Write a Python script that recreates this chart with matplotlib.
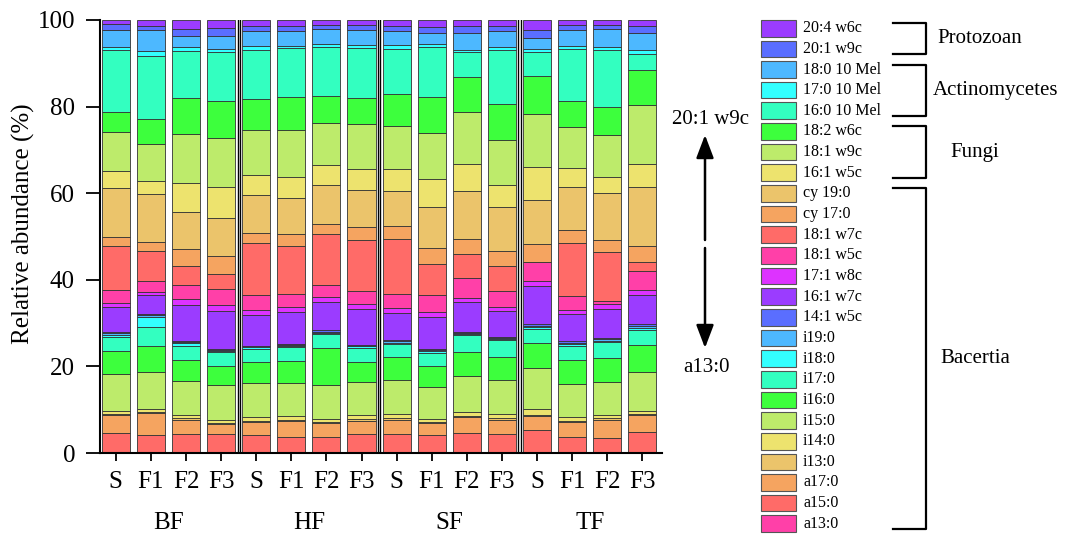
import numpy as np
import matplotlib
matplotlib.use("Agg")
import matplotlib.pyplot as plt
from matplotlib.patches import Rectangle
from matplotlib.lines import Line2D

plt.rcParams['font.family'] = ['Liberation Serif', 'DejaVu Serif']

W, H = 1067, 534

# PLFA names, bottom of the stack first
fatty_acids = ['a13:0', 'a15:0', 'a17:0', 'i13:0', 'i14:0', 'i15:0', 'i16:0', 'i17:0',
               'i18:0', 'i19:0', '14:1 w5c', '16:1 w7c', '17:1 w8c', '18:1 w5c', '18:1 w7c',
               'cy 17:0', 'cy 19:0', '16:1 w5c', '18:1 w9c', '18:2 w6c',
               '16:0 10 Mel', '17:0 10 Mel', '18:0 10 Mel', '20:1 w9c', '20:4 w6c']

treatments = ['S', 'F1', 'F2', 'F3']
sites = ['BF', 'HF', 'SF', 'TF']

# relative abundance (%) per sample, same order as fatty_acids
bf_s = [0.2, 4.4, 4.1, 0.3, 0.6, 8.7, 5.2, 3.4, 0.3, 0.4, 0.3, 5.8, 0.9, 3.1, 10.0, 2.3, 11.2, 4.0, 8.9, 4.6, 14.4, 0.7, 3.9, 1.4, 0.9]
bf_f1 = [0.2, 3.9, 5.1, 0.3, 0.7, 8.5, 6.0, 4.5, 2.3, 0.3, 0.2, 4.4, 0.8, 2.5, 6.9, 2.2, 11.0, 3.1, 8.5, 5.7, 14.7, 1.0, 4.9, 1.0, 1.3]
bf_f2 = [0.2, 4.1, 3.4, 0.3, 0.7, 7.9, 4.8, 3.2, 0.8, 0.2, 0.2, 8.3, 1.5, 3.3, 4.4, 3.9, 8.4, 6.7, 11.4, 8.3, 10.9, 0.8, 2.5, 1.7, 2.1]
bf_f3 = [0.2, 4.1, 2.3, 0.3, 0.8, 7.9, 4.6, 3.1, 0.3, 0.3, 0.2, 8.8, 1.2, 3.8, 3.5, 4.2, 8.7, 7.1, 11.3, 8.5, 11.3, 0.8, 3.1, 1.8, 1.8]
hf_s = [0.2, 3.9, 3.1, 0.3, 0.8, 7.9, 4.8, 3.1, 0.3, 0.2, 0.2, 7.0, 1.3, 3.4, 12.0, 2.3, 8.7, 4.8, 10.4, 7.1, 11.3, 0.9, 3.4, 1.1, 1.5]
hf_f1 = [0.2, 3.6, 3.6, 0.3, 0.8, 7.7, 5.0, 3.3, 0.3, 0.2, 0.2, 7.3, 1.3, 3.0, 11.1, 2.7, 8.3, 4.8, 11.0, 7.5, 11.3, 0.6, 3.3, 1.1, 1.5]
hf_f2 = [0.2, 3.6, 3.1, 0.3, 0.7, 7.7, 8.7, 3.1, 0.3, 0.3, 0.3, 6.5, 1.2, 2.9, 11.6, 2.4, 8.9, 4.6, 9.8, 6.3, 11.2, 0.8, 3.4, 1.0, 1.1]
hf_f3 = [0.2, 4.1, 3.2, 0.3, 0.9, 7.7, 4.6, 3.3, 0.3, 0.2, 0.2, 8.3, 1.0, 3.1, 11.8, 3.0, 8.6, 4.9, 10.2, 6.2, 11.5, 0.7, 3.4, 1.2, 1.1]
sf_s = [0.2, 4.1, 3.4, 0.3, 0.9, 8.0, 5.3, 3.0, 0.3, 0.3, 0.2, 6.3, 1.2, 3.3, 12.7, 3.0, 8.1, 5.0, 9.9, 7.3, 10.5, 0.9, 3.2, 1.1, 1.5]
sf_f1 = [0.2, 3.9, 2.8, 0.3, 0.7, 7.3, 4.8, 3.1, 0.4, 0.3, 0.3, 7.4, 1.0, 4.0, 7.2, 3.7, 9.4, 6.5, 10.6, 8.3, 11.6, 0.7, 2.4, 1.4, 1.7]
sf_f2 = [0.2, 4.4, 3.7, 0.3, 0.9, 8.2, 5.6, 3.9, 0.3, 0.2, 0.2, 6.9, 1.0, 4.6, 5.6, 3.5, 11.1, 6.2, 12.0, 8.1, 5.6, 0.6, 3.8, 1.6, 1.5]
sf_f3 = [0.2, 4.1, 3.4, 0.3, 0.9, 8.0, 5.3, 3.8, 0.3, 0.3, 0.2, 6.1, 0.9, 3.6, 5.9, 3.3, 10.2, 5.0, 10.5, 8.2, 12.6, 0.6, 3.7, 1.3, 1.3]
tf_s = [0.2, 5.2, 3.1, 0.3, 1.4, 9.5, 5.7, 3.3, 0.3, 0.4, 0.3, 8.8, 1.2, 4.4, 0.1, 4.0, 10.2, 7.7, 12.3, 8.7, 5.6, 0.5, 2.7, 1.7, 2.4]
tf_f1 = [0.2, 3.5, 3.5, 0.3, 0.8, 7.7, 5.4, 3.4, 0.3, 0.4, 0.3, 6.2, 1.1, 3.1, 12.3, 3.0, 9.9, 4.5, 9.3, 6.2, 11.9, 0.7, 3.7, 1.2, 1.1]
tf_f2 = [0.2, 3.3, 4.2, 0.3, 0.7, 7.7, 5.6, 3.6, 0.3, 0.4, 0.3, 6.7, 1.2, 0.7, 11.2, 2.8, 10.8, 3.8, 9.7, 6.3, 13.3, 0.7, 4.1, 1.0, 1.1]
tf_f3 = [0.2, 4.6, 3.9, 0.3, 0.8, 8.9, 6.3, 3.3, 0.5, 0.5, 0.5, 6.8, 1.1, 4.3, 2.1, 3.6, 13.7, 5.4, 13.6, 8.1, 3.7, 0.8, 3.9, 1.8, 1.3]

# functional groups shown next to the legend: (label, first row, last row) counted from legend top
groups = [('Protozoan', 0, 1), ('Actinomycetes', 2, 4), ('Fungi', 5, 7), ('Bacertia', 8, 24)]

# 13-colour cycle repeated up the stack
cycle = ['#FF40A8', '#FF6B68', '#F5A460', '#EBC46B', '#EDE36E', '#BDEB6B', '#3DFF3D',
         '#33FFC0', '#33FFFF', '#4DB8FF', '#5A6EFF', '#9B3CFF', '#DD33FF']
colors = [cycle[i % len(cycle)] for i in range(len(fatty_acids))]

samples = [bf_s, bf_f1, bf_f2, bf_f3, hf_s, hf_f1, hf_f2, hf_f3,
           sf_s, sf_f1, sf_f2, sf_f3, tf_s, tf_f1, tf_f2, tf_f3]
data = np.array(samples).T


def fx(px):
    return px / W


def fy(py):
    return 1 - py / H


fig = plt.figure(figsize=(W / 100, H / 100), dpi=100)
ax = fig.add_axes([fx(100), fy(453), (662 - 100) / W, (453 - 20) / H])

x = np.arange(data.shape[1])
bottom = np.zeros(data.shape[1])
for i, row in enumerate(data):
    ax.bar(x, row, 0.8, bottom=bottom, color=colors[i], edgecolor='#333333', linewidth=0.6)
    bottom += row

# double lines between sites
for k in range(1, len(sites)):
    sep = k * len(treatments) - 0.5
    for d in (-0.03, 0.03):
        ax.axvline(sep + d, color='black', lw=1.0)

ax.set_xlim(-0.45, 15.56)
ax.set_ylim(0, 100)
ax.set_yticks(range(0, 101, 20))
ax.set_xticks(x)
ax.set_xticklabels(treatments * len(sites))
ax.tick_params(axis='y', labelsize=18, length=10, width=1.3, direction='out', pad=8)
ax.tick_params(axis='x', labelsize=18, length=6, width=1.3, direction='out', pad=7)
for s in ('top', 'right'):
    ax.spines[s].set_visible(False)
for s in ('left', 'bottom'):
    ax.spines[s].set_linewidth(1.5)
ax.set_ylabel('Relative abundance (%)', fontsize=18)
ax.yaxis.set_label_coords(-0.115, 0.53)

for j, site in enumerate(sites):
    cx = j * len(treatments) + (len(treatments) - 1) / 2
    ax.text(cx, -0.162, site, transform=ax.get_xaxis_transform(),
            ha='center', va='center', fontsize=18)

# legend drawn by hand, top row = last fatty acid
row0, step = 28.2, 20.65
for r, i in enumerate(range(len(fatty_acids) - 1, -1, -1)):
    yc = row0 + r * step
    fig.add_artist(Rectangle((fx(761), fy(yc + 8.3)), 35 / W, 16.6 / H,
                             transform=fig.transFigure, facecolor=colors[i],
                             edgecolor='#555555', lw=0.8))
    fig.text(fx(803), fy(yc), fatty_acids[i], ha='left', va='center', fontsize=11.5)

# brackets for functional groups
label_x = {'Protozoan': 937, 'Actinomycetes': 933, 'Fungi': 950, 'Bacertia': 940}
for name, r0, r1 in groups:
    y0 = row0 + r0 * step - 5
    y1 = row0 + r1 * step + 5
    xr = 926
    fig.add_artist(Line2D([fx(893), fx(xr), fx(xr), fx(893)], [fy(y0), fy(y0), fy(y1), fy(y1)],
                          transform=fig.transFigure, color='black', lw=1.6))
    fig.text(fx(label_x[name]), fy((y0 + y1) / 2), name, ha='left', va='center', fontsize=15)

# arrows between the bar stacks and the legend
arrow = dict(arrowstyle='-|>,head_length=1.0,head_width=0.38', lw=1.8, color='black',
             mutation_scale=14, shrinkA=0, shrinkB=0)
fig.add_artist(plt.Annotation('', xy=(fx(705), fy(135)), xytext=(fx(705), fy(240)),
                              xycoords='figure fraction', arrowprops=arrow))
fig.add_artist(plt.Annotation('', xy=(fx(705), fy(348)), xytext=(fx(705), fy(248)),
                              xycoords='figure fraction', arrowprops=arrow))
fig.text(fx(710), fy(119), fatty_acids[-2], ha='center', va='center', fontsize=15)
fig.text(fx(707), fy(367), fatty_acids[0], ha='center', va='center', fontsize=15)

fig.savefig('out.png', dpi=100)
